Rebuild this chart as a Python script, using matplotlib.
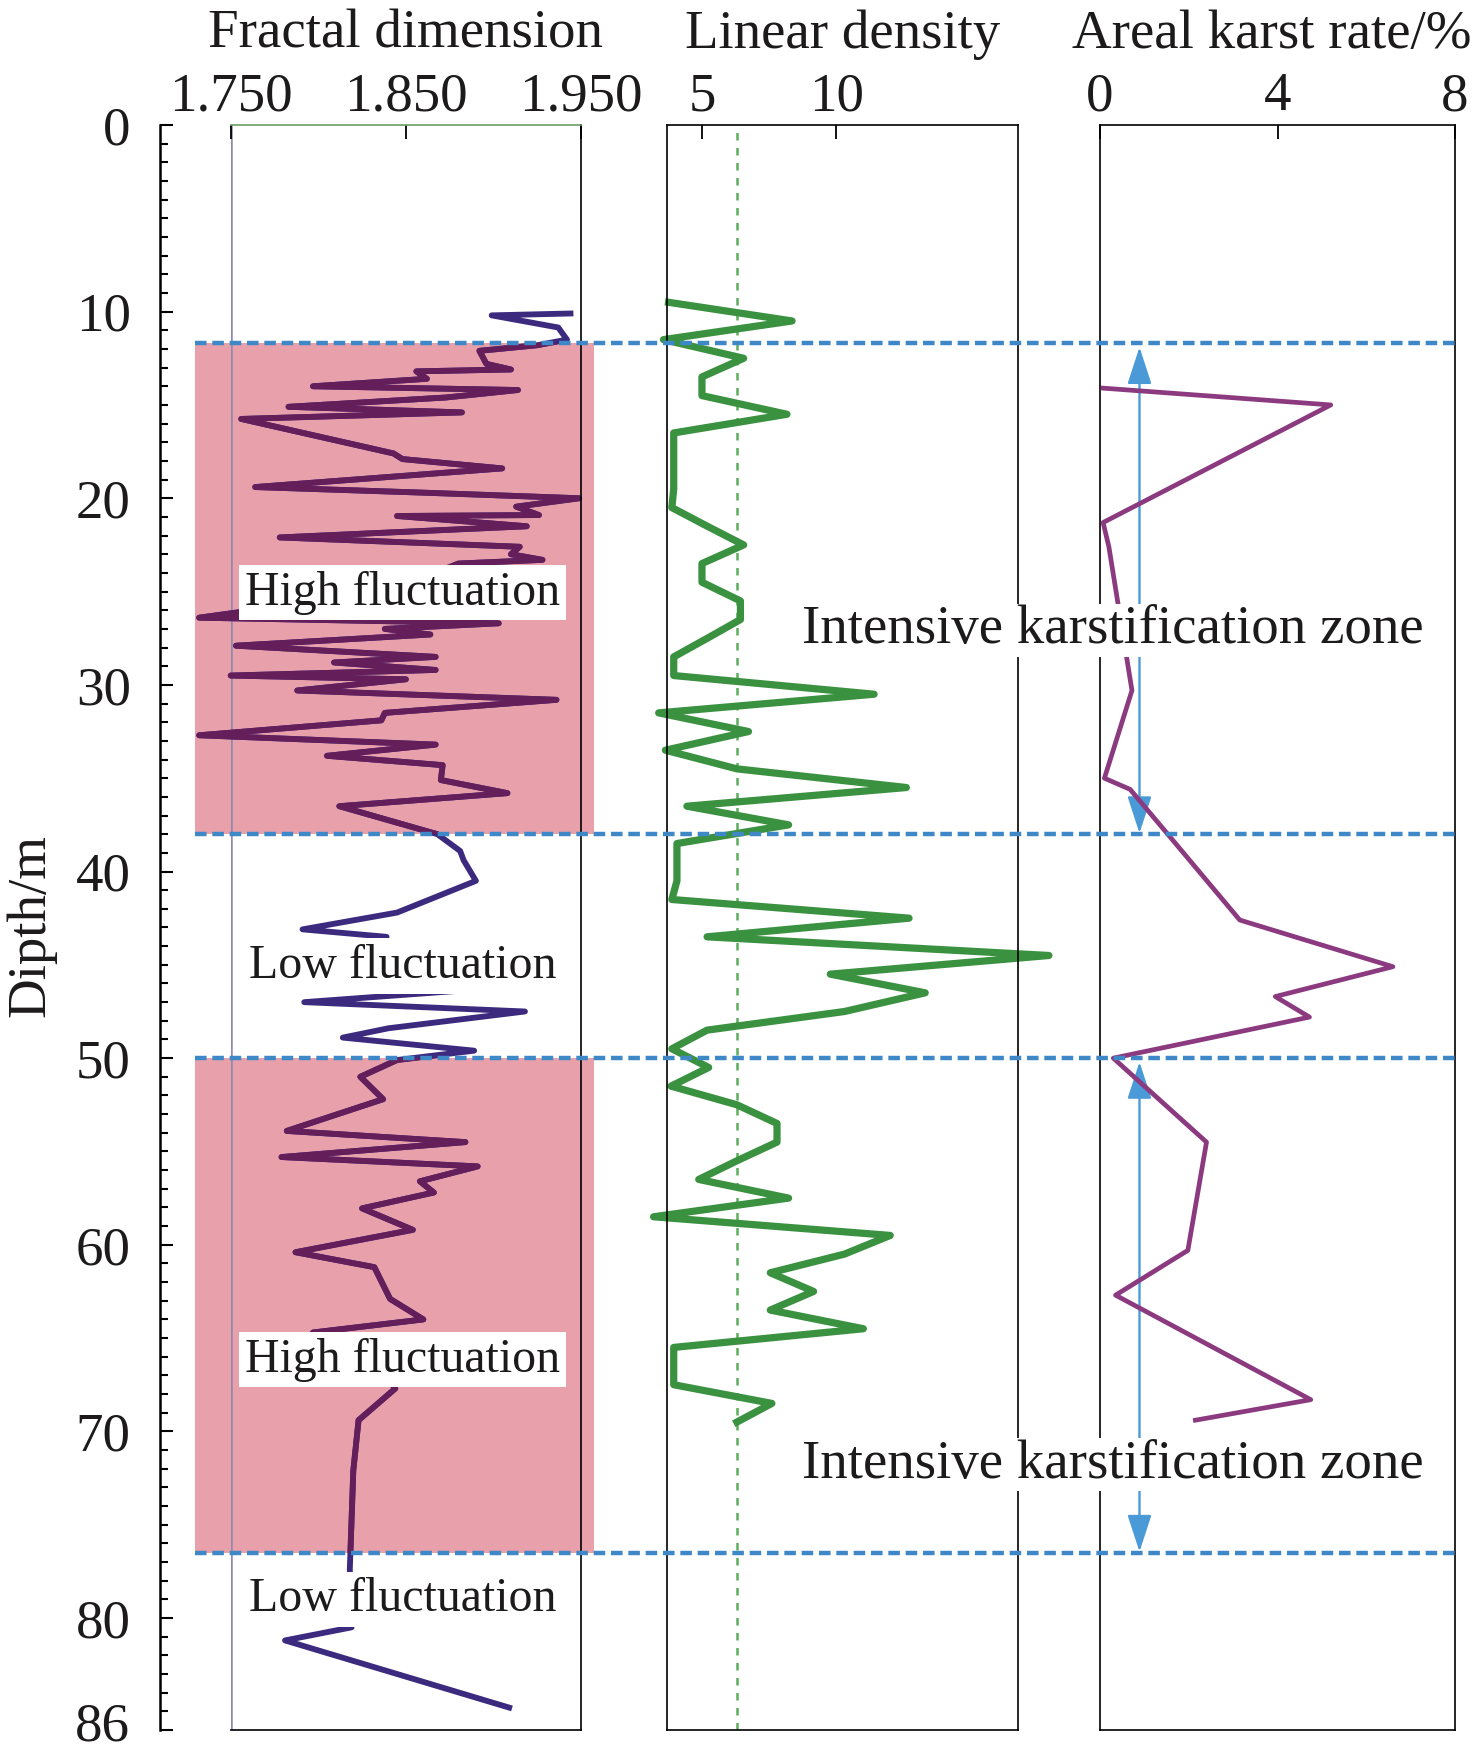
import numpy as np
import matplotlib
matplotlib.use("Agg")
import matplotlib.pyplot as plt
from matplotlib.ticker import FixedLocator, FixedFormatter, FormatStrFormatter

plt.rcParams['font.family'] = ['Liberation Serif', 'DejaVu Serif']

# fractal dimension log (depth m, value)
fd_depth = [10.1, 10.2, 10.85, 11.5, 11.8, 12.1, 12.8, 13.1, 13.2, 13.6, 14.0, 14.2, 14.6,
            15.1, 15.4, 15.75, 17.6, 17.9, 18.4, 19.4, 19.7, 20.0, 20.45, 20.9, 20.95,
            21.5, 22.1, 22.6, 23.0, 23.3, 23.5, 25.0, 26.4, 26.7, 27.0, 27.3, 27.9,
            28.5, 28.8, 29.2, 29.5, 29.7, 30.3, 30.8, 31.5, 31.9, 32.7, 33.2, 33.8,
            34.3, 35.1, 35.8, 36.5, 38.0, 38.9, 39.4, 40.5, 42.2, 43.1, 43.5, 45.0,
            46.4, 47.0, 47.5, 48.4, 48.9, 49.6, 50.1, 51.0, 52.2, 53.9, 54.5, 55.3,
            55.8, 56.6, 57.2, 58.05, 59.2, 60.4, 61.2, 62.9, 64.0, 64.7, 66.0, 67.7,
            69.4, 72.1, 77.4, 80.5, 81.2, 84.8]
fd_value = [1.944, 1.899, 1.937, 1.942, 1.925, 1.892, 1.896, 1.910, 1.856, 1.862, 1.797,
            1.914, 1.873, 1.783, 1.882, 1.756, 1.843, 1.848, 1.905, 1.764, 1.860, 1.949,
            1.913, 1.926, 1.845, 1.919, 1.778, 1.915, 1.910, 1.928, 1.880, 1.840, 1.732,
            1.903, 1.838, 1.864, 1.753, 1.867, 1.809, 1.867, 1.750, 1.850, 1.788, 1.936,
            1.838, 1.836, 1.732, 1.867, 1.805, 1.871, 1.870, 1.908, 1.812, 1.868, 1.881,
            1.883, 1.890, 1.845, 1.791, 1.839, 1.830, 1.879, 1.792, 1.918, 1.840, 1.814,
            1.889, 1.845, 1.824, 1.837, 1.782, 1.884, 1.779, 1.891, 1.858, 1.866, 1.825,
            1.854, 1.787, 1.832, 1.841, 1.860, 1.797, 1.830, 1.844, 1.823, 1.820, 1.818,
            1.819, 1.781, 1.909]

# linear density log
ld_depth = [9.5, 10.5, 11.5, 12.5, 13.5, 14.5, 15.5, 16.5, 17.5, 18.5, 19.5, 20.5, 21.5,
            22.5, 23.5, 24.5, 25.5, 26.5, 27.5, 28.5, 29.5, 30.5, 31.5, 32.5, 33.5, 34.5,
            35.5, 36.5, 37.5, 38.5, 39.5, 40.5, 41.5, 42.5, 43.5, 44.5, 45.5, 46.5, 47.5,
            48.5, 49.5, 50.5, 51.5, 52.5, 53.5, 54.5, 55.5, 56.5, 57.5, 58.5, 59.5, 60.5,
            61.5, 62.5, 63.5, 64.5, 65.5, 66.5, 67.5, 68.5, 69.5]
ld_value = [3.76, 8.35, 3.57, 6.55, 5.0, 5.0, 8.16, 3.95, 3.95, 3.95, 3.95, 3.88, 5.2,
            6.55, 5.0, 5.0, 6.43, 6.43, 5.2, 3.95, 3.95, 11.4, 3.39, 6.73, 3.64, 6.3,
            12.6, 4.44, 8.22, 4.07, 4.07, 4.07, 3.88, 12.7, 5.19, 17.9, 9.77, 13.3, 10.3,
            5.19, 3.88, 5.25, 3.85, 6.3, 7.79, 7.79, 6.3, 4.88, 8.22, 3.2, 12.0, 10.3,
            7.54, 9.15, 7.54, 11.0, 3.95, 3.95, 3.95, 7.6, 6.3]
ld_mean = 6.3

# areal karst rate log
ak_depth = [14.1, 15.0, 21.3, 22.6, 30.3, 35.0, 35.6, 42.6, 45.1, 46.7, 47.8, 50.0,
            54.5, 60.3, 62.7, 68.3, 69.4]
ak_value = [0.07, 5.2, 0.07, 0.2, 0.72, 0.1, 0.68, 3.15, 6.6, 3.95, 4.72, 0.3,
            2.4, 1.98, 0.35, 4.75, 2.15]

# zones
zone_top = [11.7, 50.0]
zone_bottom = [38.0, 76.5]
fluct_labels = ['High fluctuation', 'Low fluctuation', 'High fluctuation', 'Low fluctuation']
fluct_depth = [25.05, 45.05, 66.15, 79.0]
karst_label = 'Intensive karstification zone'
karst_depth = [26.75, 71.45]
arrow_x = 0.89

depth_ticks = [0, 10, 20, 30, 40, 50, 60, 70, 80, 86]

W, H = 1476, 1753
fig = plt.figure(figsize=(W / 100, H / 100), dpi=100)
y_top, y_bot = 125, 1730
bottom = 1 - y_bot / H
height = (y_bot - y_top) / H

ax1 = fig.add_axes([230.7 / W, bottom, 350.3 / W, height])
ax2 = fig.add_axes([667 / W, bottom, 351 / W, height])
ax3 = fig.add_axes([1100 / W, bottom, 355 / W, height])
ov = fig.add_axes([195 / W, bottom, 1260 / W, height])

FS = 39.5
TXT = '#1c1a1b'

for ax in (ax1, ax2, ax3):
    ax.set_ylim(86, 0)
    ax.xaxis.tick_top()
    ax.tick_params(axis='x', direction='in', length=10, width=1.3, pad=2,
                   labelsize=FS, colors='black', labelcolor=TXT)
    for s in ax.spines.values():
        s.set_linewidth(1.2)

ax1.set_xlim(1.75, 1.95)
ax2.set_xlim(3.70, 16.75)
ax3.set_xlim(0, 8)

ax1.set_xticks([1.75, 1.85, 1.95])
ax1.xaxis.set_major_formatter(FormatStrFormatter('%.3f'))
ax2.set_xticks([5, 10])
ax3.set_xticks([0, 4, 8])

# depth axis (last label drawn separately, nudged up so it stays inside)
ax1.spines['left'].set_position(('outward', 51))
ax1.spines['left'].set_linewidth(1.8)
ax1.spines['top'].set_color('#6a9e64')
ax1.yaxis.set_major_locator(FixedLocator(depth_ticks))
ax1.yaxis.set_major_formatter(FixedFormatter([str(t) for t in depth_ticks[:-1]] + ['']))
ax1.yaxis.set_minor_locator(FixedLocator(list(range(0, 87))))
ax1.tick_params(axis='y', which='major', direction='in', length=9.5, width=1.5,
                pad=21, labelsize=FS, labelcolor=TXT)
ax1.tick_params(axis='y', which='minor', direction='in', length=6, width=1.5)
ax1.annotate(str(depth_ticks[-1]), xy=(0, depth_ticks[-1]), xycoords=('axes fraction', 'data'),
             xytext=(-72.5, 6), textcoords='offset points', ha='right',
             va='center_baseline', fontsize=FS, color=TXT, annotation_clip=False)
for ax in (ax2, ax3):
    ax.set_yticks([])

titles = ['Fractal dimension', 'Linear density', 'Areal karst rate/%']
title_x = [0.5, 0.5, 0.485]
for ax, t, tx in zip((ax1, ax2, ax3), titles, title_x):
    ax.text(tx, 1 + 77 / (y_bot - y_top), t, transform=ax.transAxes, ha='center',
            va='baseline', fontsize=FS, color=TXT)

fig.text(31 / W, 1 - 926 / H, 'Dipth/m', rotation=90, ha='center', va='center',
         fontsize=FS, color=TXT)

# panel 1: shading and fractal dimension
ax1.axvline(1.75, color='#8f89ae', lw=1.8, zorder=1)
spans = []
for t, b in zip(zone_top, zone_bottom):
    sp = ax1.axhspan(t, b, xmin=-0.102, xmax=1.037, facecolor='#e8a0ab',
                     edgecolor='none', zorder=0.5)
    sp.set_clip_on(False)
    spans.append(sp)

ax1.plot(fd_value, fd_depth, color='#3b2a7e', lw=4.2, clip_on=False, zorder=2)
for sp in spans:
    ln, = ax1.plot(fd_value, fd_depth, color='#641e5a', lw=4.2, zorder=2.1)
    ln.set_clip_path(sp)

for lab, d in zip(fluct_labels, fluct_depth):
    ax1.text(1.848, d, lab, ha='center', va='center', fontsize=34.5, color=TXT,
             zorder=5, bbox=dict(boxstyle='square,pad=0.12', fc='white', ec='none'))

# panel 2: linear density
ax2.axvline(ld_mean, color='#5cae5c', lw=1.8, ls=(0, (3, 3.0)), zorder=1)
ax2.plot(ld_value, ld_depth, color='#3a9140', lw=5.2, clip_on=False, zorder=2)

# panel 3: areal karst rate
ax3.plot(ak_value, ak_depth, color='#8b3a80', lw=3.4, zorder=3)
for t, b in zip(zone_top, zone_bottom):
    ax3.annotate('', xy=(arrow_x, t + 0.2), xytext=(arrow_x, b - 0.05),
                 arrowprops=dict(arrowstyle='<|-|>,head_length=2.3,head_width=0.75',
                                 mutation_scale=10, color='#4a9ad8', lw=1.7,
                                 shrinkA=0, shrinkB=0), zorder=2)
for d in karst_depth:
    ax3.text(0.29, d, karst_label, ha='center', va='center_baseline', fontsize=FS,
             color=TXT, zorder=6, clip_on=False,
             bbox=dict(boxstyle='square,pad=0.02', fc='white', ec='none'))

# zone boundaries across all panels
ov.set_xlim(0, 1)
ov.set_ylim(86, 0)
ov.axis('off')
ov.patch.set_alpha(0)
ov.hlines(zone_top + zone_bottom, 0, 1, colors='#3f88c8', lw=3.2,
          linestyles=[(0, (2.6, 1.3))])

fig.savefig('out.png', dpi=100)
